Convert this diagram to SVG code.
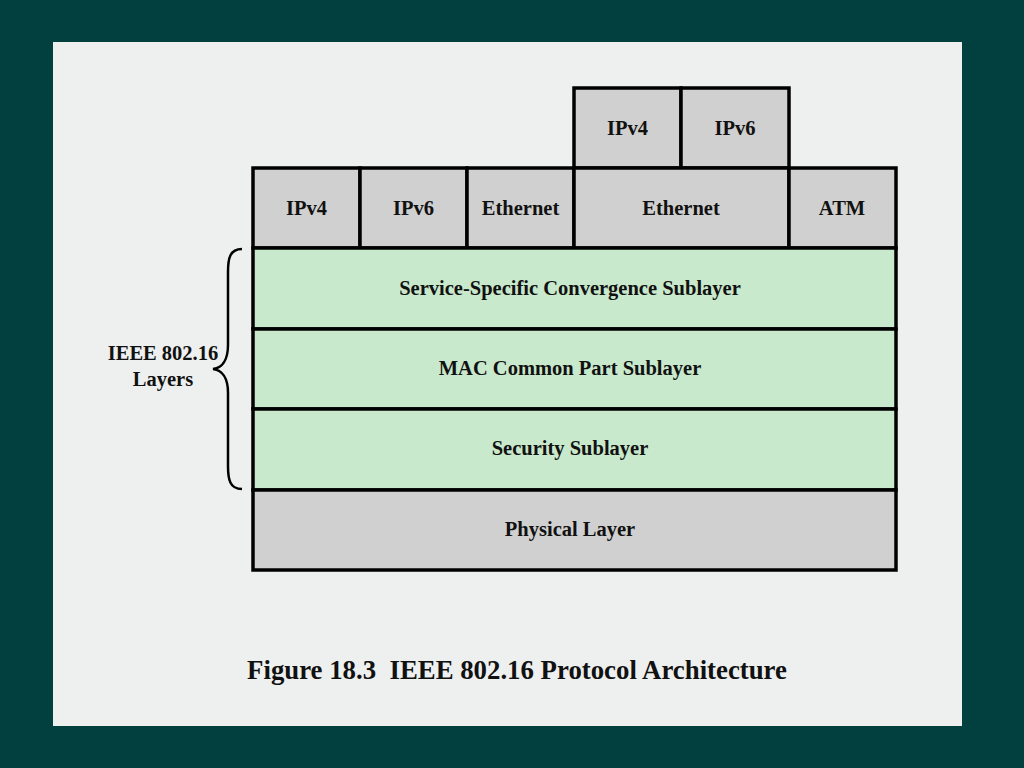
<svg xmlns="http://www.w3.org/2000/svg" width="1024" height="768" viewBox="0 0 1024 768">
<style>
.g{fill:#d0d0d0;stroke:#000;stroke-width:3.5}
.l{fill:#c8e9cc;stroke:#000;stroke-width:3.5}
text{font-family:"Liberation Serif","Times New Roman",serif;font-weight:bold;fill:#111;text-anchor:middle}
.t{font-size:20.5px}
.c{font-size:26.8px;white-space:pre}
</style>
<rect x="0" y="0" width="1024" height="768" fill="#024040"/>
<rect x="53" y="42" width="909" height="684" fill="#eef0ef"/>
<g id="top-ipv4"><rect class="g" x="574" y="88" width="107" height="80"/><text class="t" x="627.5" y="135">IPv4</text></g>
<g id="top-ipv6"><rect class="g" x="681" y="88" width="108" height="80"/><text class="t" x="735" y="135">IPv6</text></g>
<g id="ipv4"><rect class="g" x="253" y="168" width="107" height="80"/><text class="t" x="306.5" y="215">IPv4</text></g>
<g id="ipv6"><rect class="g" x="360" y="168" width="107" height="80"/><text class="t" x="413.5" y="215">IPv6</text></g>
<g id="ethernet1"><rect class="g" x="467" y="168" width="107" height="80"/><text class="t" x="520.5" y="215">Ethernet</text></g>
<g id="ethernet2"><rect class="g" x="574" y="168" width="215" height="80"/><text class="t" x="681" y="215">Ethernet</text></g>
<g id="atm"><rect class="g" x="789" y="168" width="107" height="80"/><text class="t" x="842" y="215">ATM</text></g>
<g id="sscs"><rect class="l" x="253" y="248" width="643" height="81"/><text class="t" x="570" y="295">Service-Specific Convergence Sublayer</text></g>
<g id="mac"><rect class="l" x="253" y="329" width="643" height="80"/><text class="t" x="570" y="375">MAC Common Part Sublayer</text></g>
<g id="security"><rect class="l" x="253" y="409" width="643" height="81"/><text class="t" x="570" y="455">Security Sublayer</text></g>
<g id="physical"><rect class="g" x="253" y="490" width="643" height="80"/><text class="t" x="570" y="536">Physical Layer</text></g>
<g id="brace-label">
<path d="M242,249 C230,249 228,258 228,272 L228,345 C228,360 222,368 213,369 C222,370 228,378 228,393 L228,466 C228,480 230,489 242,489" fill="none" stroke="#000" stroke-width="2.5"/>
<text class="t" x="163" y="360">IEEE 802.16</text>
<text class="t" x="163" y="386">Layers</text>
</g>
<text class="c" x="517" y="679">Figure 18.3  IEEE 802.16 Protocol Architecture</text>
</svg>
